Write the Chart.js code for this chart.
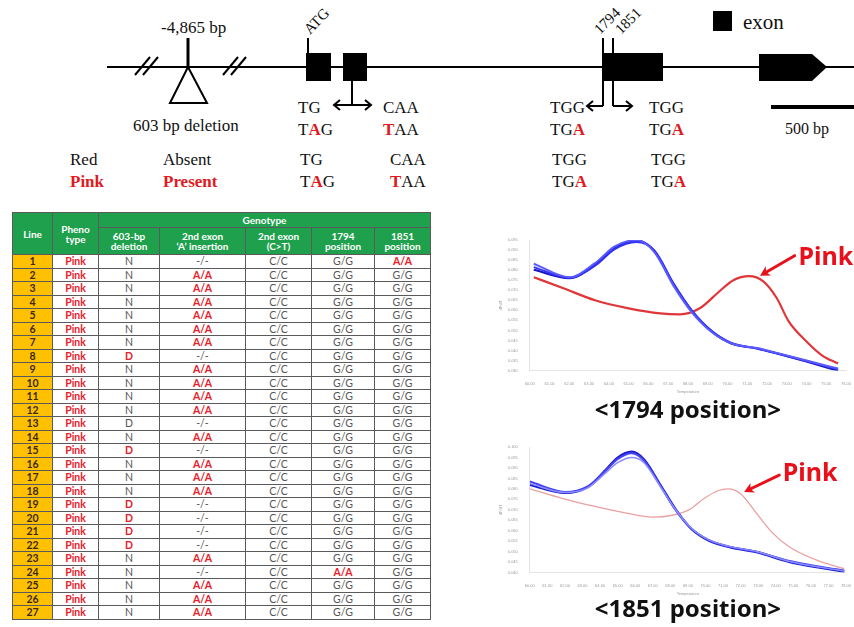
<!DOCTYPE html>
<html>
<head>
<meta charset="utf-8">
<script src="https://cdn.jsdelivr.net/npm/chart.js@4.4.1/dist/chart.umd.min.js"></script>
<style>
  html, body { margin: 0; padding: 0; background: #fff; }
  #page { position: relative; width: 854px; height: 627px; overflow: hidden; }
  #gene { position: absolute; left: 0; top: 0; }
  #gene text { font-family: 'Liberation Serif', serif; font-size: 17px; fill: #111; }
  #gene .red { fill: #e01a22; font-weight: bold; }
  #geno { position: absolute; left: 12px; top: 212px; border-collapse: collapse; table-layout: fixed;
          font-family: Lato, 'Open Sans', sans-serif; font-size: 10.5px; }
  #geno td, #geno th { border: 1.5px solid #5a5a5a; padding: 0; text-align: center; line-height: 1; color: #555; }
  #geno th { background: #1fa04c; color: #fff; font-weight: bold; font-size: 10px; }
  #geno td.line { background: #ffc000; color: #3a2a00; font-weight: bold; }
  #geno td.hi { color: #e8202a; font-weight: bold; }
  .chartbox { position: absolute; }
</style>
</head>
<body>
<div id="page">

<svg id="gene" width="854" height="200" xmlns="http://www.w3.org/2000/svg">
  <!-- backbone -->
  <line x1="107" y1="67" x2="854" y2="67" stroke="#000" stroke-width="2"/>
  <g stroke="#000" stroke-width="2">
    <line x1="135" y1="75" x2="150" y2="57"/><line x1="143" y1="75" x2="158" y2="57"/>
    <line x1="223" y1="75" x2="238" y2="57"/><line x1="231" y1="75" x2="246" y2="57"/>
  </g>
  <!-- deletion -->
  <line x1="188" y1="38" x2="188" y2="67" stroke="#000" stroke-width="3"/>
  <polygon points="188,67 170,103 207,103" fill="#fff" stroke="#000" stroke-width="2"/>
  <text x="161" y="33">-4,865 bp</text>
  <text x="133" y="131">603 bp deletion</text>

  <!-- exons -->
  <rect x="306" y="53" width="25" height="28" fill="#000"/>
  <rect x="343" y="53" width="24" height="28" fill="#000"/>
  <rect x="602" y="53" width="61" height="28" fill="#000"/>
  <polygon points="759,54 812,54 827,67 812,81 759,81" fill="#000"/>

  <line x1="308" y1="38" x2="308" y2="53" stroke="#000" stroke-width="2"/>
  <text transform="translate(310,35) rotate(-46)" style="font-size:15px">ATG</text>

  <g stroke="#000" stroke-width="2" fill="none">
    <line x1="352" y1="81" x2="352" y2="105"/>
    <line x1="334" y1="105" x2="371" y2="105"/>
    <polyline points="340,100 334,105 340,110"/>
    <polyline points="365,100 371,105 365,110"/>

    <line x1="603" y1="38" x2="603" y2="106"/>
    <line x1="603" y1="106" x2="587" y2="106"/>
    <polyline points="593,101 587,106 593,111"/>
    <line x1="613" y1="38" x2="613" y2="106"/>
    <line x1="613" y1="106" x2="632" y2="106"/>
    <polyline points="626,101 632,106 626,111"/>
  </g>
  <text transform="translate(600,35) rotate(-45)" style="font-size:15px">1794</text>
  <text transform="translate(621,35) rotate(-45)" style="font-size:15px">1851</text>

  <!-- legend + scale -->
  <rect x="713" y="11" width="19" height="20" fill="#000"/>
  <text x="743" y="29" style="font-size:21px">exon</text>
  <rect x="771" y="105" width="83" height="4" fill="#000"/>
  <text x="785" y="134" style="font-size:16px">500 bp</text>

  <!-- codons -->
  <text x="298" y="113">TG</text>
  <text x="383" y="113">CAA</text>
  <text x="550" y="113">TGG</text>
  <text x="649" y="113">TGG</text>
  <text x="298" y="135">T<tspan class="red">A</tspan>G</text>
  <text x="383" y="135"><tspan class="red">T</tspan>AA</text>
  <text x="550" y="135">TG<tspan class="red">A</tspan></text>
  <text x="649" y="135">TG<tspan class="red">A</tspan></text>

  <text x="70" y="165">Red</text>
  <text x="163" y="165">Absent</text>
  <text x="300" y="165">TG</text>
  <text x="390" y="165">CAA</text>
  <text x="552" y="165">TGG</text>
  <text x="651" y="165">TGG</text>
  <text x="70" y="187" class="red">Pink</text>
  <text x="163" y="187" class="red">Present</text>
  <text x="300" y="187">T<tspan class="red">A</tspan>G</text>
  <text x="390" y="187"><tspan class="red">T</tspan>AA</text>
  <text x="552" y="187">TG<tspan class="red">A</tspan></text>
  <text x="651" y="187">TG<tspan class="red">A</tspan></text>
</svg>

<table id="geno"></table>

<div class="chartbox" style="left:495px; top:228px;"><canvas id="c1794" width="359" height="205"></canvas></div>
<div class="chartbox" style="left:495px; top:435px;"><canvas id="c1851" width="359" height="192"></canvas></div>

</div>

<script>
// ---- genotype table ----
const lines      = [1,2,3,4,5,6,7,8,9,10,11,12,13,14,15,16,17,18,19,20,21,22,23,24,25,26,27];
const phenotype  = 'Pink';
const deletion   = ['N','N','N','N','N','N','N','D','N','N','N','N','D','N','D','N','N','N','D','D','D','D','N','N','N','N','N'];
const insertion  = ['-/-','A/A','A/A','A/A','A/A','A/A','A/A','-/-','A/A','A/A','A/A','A/A','-/-','A/A','-/-','A/A','A/A','A/A','-/-','-/-','-/-','-/-','A/A','-/-','A/A','A/A','A/A'];
const exonCT     = ['C/C','C/C','C/C','C/C','C/C','C/C','C/C','C/C','C/C','C/C','C/C','C/C','C/C','C/C','C/C','C/C','C/C','C/C','C/C','C/C','C/C','C/C','C/C','C/C','C/C','C/C','C/C'];
const pos1794    = ['G/G','G/G','G/G','G/G','G/G','G/G','G/G','G/G','G/G','G/G','G/G','G/G','G/G','G/G','G/G','G/G','G/G','G/G','G/G','G/G','G/G','G/G','G/G','A/A','G/G','G/G','G/G'];
const pos1851    = ['A/A','G/G','G/G','G/G','G/G','G/G','G/G','G/G','G/G','G/G','G/G','G/G','G/G','G/G','G/G','G/G','G/G','G/G','G/G','G/G','G/G','G/G','G/G','G/G','G/G','G/G','G/G'];
const plainD     = [13];   // line 13 printed without highlight in the source

// ---- melt curves, <1794 position> ----
const temp1794Blue = [60.2, 62.0, 63.3, 64.3, 65.4, 66.3, 67.3, 68.2, 69.2, 70.2, 71.5, 72.5, 74.0, 75.6];
const blue1794A    = [0.0802, 0.0760, 0.0827, 0.0910, 0.0948, 0.0895, 0.0725, 0.0595, 0.0495, 0.0435, 0.0410, 0.0385, 0.0345, 0.0300];
const blue1794B    = [0.0832, 0.0765, 0.0835, 0.0918, 0.0950, 0.0890, 0.0718, 0.0590, 0.0492, 0.0435, 0.0412, 0.0388, 0.0350, 0.0310];
const blue1794C    = [0.0815, 0.0762, 0.0822, 0.0905, 0.0940, 0.0898, 0.0730, 0.0600, 0.0498, 0.0438, 0.0410, 0.0386, 0.0348, 0.0305];
const temp1794Red  = [60.2, 61.7, 63.3, 65.0, 66.6, 67.6, 68.6, 69.6, 70.3, 71.1, 71.8, 72.5, 73.1, 74.0, 74.8, 75.6];
const red1794      = [0.0765, 0.0710, 0.0650, 0.0610, 0.0585, 0.0580, 0.0610, 0.0695, 0.0750, 0.0770, 0.0745, 0.0660, 0.0545, 0.0445, 0.0375, 0.0335];

// ---- melt curves, <1851 position> ----
const temp1851Blue = [60.0, 62.0, 63.3, 64.3, 65.0, 65.8, 66.5, 67.4, 68.3, 69.2, 70.2, 71.4, 72.9, 74.8, 76.6, 77.9];
const blue1851A    = [0.0819, 0.0781, 0.0809, 0.0888, 0.0949, 0.0977, 0.0940, 0.0823, 0.0702, 0.0609, 0.0553, 0.0521, 0.0498, 0.0451, 0.0423, 0.0405];
const blue1851B    = [0.0835, 0.0785, 0.0812, 0.0885, 0.0942, 0.0970, 0.0935, 0.0820, 0.0700, 0.0610, 0.0555, 0.0523, 0.0500, 0.0455, 0.0427, 0.0410];
const blue1851C    = [0.0825, 0.0783, 0.0805, 0.0875, 0.0925, 0.0950, 0.0925, 0.0815, 0.0700, 0.0612, 0.0556, 0.0524, 0.0501, 0.0453, 0.0425, 0.0408];
const temp1851Pink = [60.0, 61.9, 63.7, 65.5, 67.0, 68.1, 69.1, 69.9, 70.7, 71.3, 72.0, 72.9, 73.8, 74.8, 76.6, 77.9];
const pink1851     = [0.0800, 0.0753, 0.0716, 0.0684, 0.0665, 0.0674, 0.0702, 0.0753, 0.0791, 0.0800, 0.0777, 0.0684, 0.0591, 0.0521, 0.0451, 0.0419];

// build table
const tbl = document.getElementById('geno');
const colW = [40, 46, 61, 86, 66, 63, 56];
let html = '<colgroup>' + colW.map(w => `<col style="width:${w}px">`).join('') + '</colgroup>';
html += '<tr style="height:15px"><th rowspan="2">Line</th><th rowspan="2">Pheno<br>type</th><th colspan="5">Genotype</th></tr>';
html += '<tr style="height:27px"><th>603-bp<br>deletion</th><th>2nd exon<br>‘A’ insertion</th><th>2nd exon<br>(C&gt;T)</th><th>1794<br>position</th><th>1851<br>position</th></tr>';
const cell = (v, hi) => `<td${hi ? ' class="hi"' : ''}>${v}</td>`;
lines.forEach((ln, i) => {
  html += '<tr style="height:13.5px">';
  html += `<td class="line">${ln}</td>`;
  html += cell(phenotype, true);
  html += cell(deletion[i], deletion[i] === 'D' && !plainD.includes(ln));
  html += cell(insertion[i], insertion[i] === 'A/A');
  html += cell(exonCT[i], false);
  html += cell(pos1794[i], pos1794[i] === 'A/A');
  html += cell(pos1851[i], pos1851[i] === 'A/A');
  html += '</tr>';
});
tbl.innerHTML = html;

// ---- charts ----
const pts = (xs, ys) => xs.map((x, i) => ({ x: x, y: ys[i] }));

const pinkNote = {
  id: 'pinkNote',
  afterDatasetsDraw(chart, args, opts) {
    const { ctx, scales: { x, y } } = chart;
    const tx = x.getPixelForValue(opts.tip[0]), ty = y.getPixelForValue(opts.tip[1]);
    const fx = x.getPixelForValue(opts.tail[0]), fy = y.getPixelForValue(opts.tail[1]);
    const ang = Math.atan2(ty - fy, tx - fx);
    ctx.save();
    ctx.strokeStyle = '#e8101a';
    ctx.fillStyle = '#e8101a';
    ctx.lineWidth = 3;
    ctx.lineCap = 'round';
    ctx.beginPath();
    ctx.moveTo(fx, fy);
    ctx.lineTo(tx - 4 * Math.cos(ang), ty - 4 * Math.sin(ang));
    ctx.stroke();
    ctx.beginPath();
    ctx.moveTo(tx, ty);
    ctx.lineTo(tx - 11 * Math.cos(ang - 0.5), ty - 11 * Math.sin(ang - 0.5));
    ctx.lineTo(tx - 7 * Math.cos(ang), ty - 7 * Math.sin(ang));
    ctx.lineTo(tx - 11 * Math.cos(ang + 0.5), ty - 11 * Math.sin(ang + 0.5));
    ctx.closePath();
    ctx.fill();
    ctx.font = 'bold 25px "Noto Sans", sans-serif';
    ctx.textBaseline = 'middle';
    ctx.fillText('Pink', x.getPixelForValue(opts.text[0]), y.getPixelForValue(opts.text[1]));
    ctx.restore();
  }
};

function meltChart(id, title, xMin, xMax, yMin, yMax, datasets, note, pad, titlePad) {
  const tickFont = { family: 'Liberation Sans', size: 4 };
  return new Chart(document.getElementById(id), {
    type: 'line',
    data: { datasets: datasets },
    options: {
      responsive: false,
      animation: false,
      layout: { padding: pad },
      elements: { point: { radius: 0 }, line: { cubicInterpolationMode: 'monotone' } },
      scales: {
        x: {
          type: 'linear', min: xMin, max: xMax,
          grid: { display: false },
          border: { color: '#e4e4e4' },
          ticks: { stepSize: 1, autoSkip: false, maxRotation: 0, padding: 3, font: tickFont, color: '#999',
                   callback: v => v.toFixed(2) },
          title: { display: true, text: 'Temperature', font: tickFont, color: '#999', padding: 0 }
        },
        y: {
          min: yMin, max: yMax,
          grid: { display: false },
          border: { color: '#e4e4e4' },
          ticks: { stepSize: 0.005, padding: 4, font: tickFont, color: '#999', callback: v => v.toFixed(3) },
          title: { display: true, text: 'dF/dT', font: tickFont, color: '#999', padding: 1 }
        }
      },
      plugins: {
        legend: { display: false },
        tooltip: { enabled: false },
        title: { display: true, text: title, position: 'bottom', fullSize: false, color: '#111',
                 font: { family: 'Noto Sans', size: 24, weight: 'bold' }, padding: titlePad },
        pinkNote: note
      }
    },
    plugins: [pinkNote]
  });
}

const blueLine = (data, color, w) => ({ data: data, borderColor: color, borderWidth: w, fill: false });

meltChart('c1794', '<1794 position>', 60, 76, 0.030, 0.095, [
  blueLine(pts(temp1794Blue, blue1794B), '#5a5aff', 2),
  blueLine(pts(temp1794Blue, blue1794C), '#3232f0', 2),
  blueLine(pts(temp1794Blue, blue1794A), '#1414c4', 2.2),
  { data: pts(temp1794Red, red1794), borderColor: '#e0363a', borderWidth: 2.2, fill: false }
], { tip: [71.65, 0.0772], tail: [73.4, 0.0872], text: [73.6, 0.0859] },
   { top: 12, right: 5, left: 2 }, { top: 3, bottom: 7 });

meltChart('c1851', '<1851 position>', 60, 78, 0.040, 0.100, [
  blueLine(pts(temp1851Blue, blue1851C), '#8c8cff', 1.5),
  blueLine(pts(temp1851Blue, blue1851B), '#4646f5', 2),
  blueLine(pts(temp1851Blue, blue1851A), '#1c1ccc', 2.5),
  { data: pts(temp1851Pink, pink1851), borderColor: '#eaa0a0', borderWidth: 1.3, fill: false }
], { tip: [72.2, 0.0785], tail: [74.2, 0.0866], text: [74.4, 0.0870] },
   { top: 12, right: 5, left: 2 }, { top: 0, bottom: 2 });
</script>
</body>
</html>
